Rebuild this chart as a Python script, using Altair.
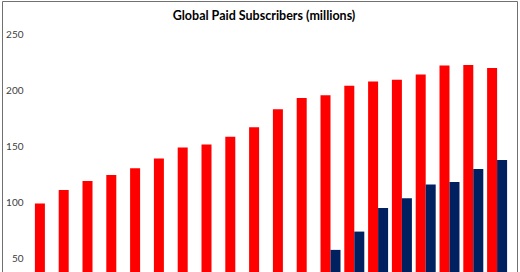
import altair as alt
import pandas as pd

title_text = "Global Paid Subscribers (millions)"
periods = [f"P{i+1}" for i in range(20)]
red_label = "Netflix"
navy_label = "Disney+"
red_values = [99, 111, 119, 124.5, 130.5, 139, 149, 151.5, 158.5, 167,
              183, 193, 195.5, 204, 207.7, 209.2, 214, 222, 222.3, 219.7]
navy_values = [None] * 12 + [57.7, 74, 95, 103.6, 116, 118.1, 129.8, 137.7]

rows = []
for p, r, n in zip(periods, red_values, navy_values):
    rows.append({"period": p, "series": red_label, "value": r})
    if n is not None:
        rows.append({"period": p, "series": navy_label, "value": n})
df = pd.DataFrame(rows)

bars = alt.Chart(df).mark_bar(clip=True).encode(
    x=alt.X("period:N", sort=periods, axis=None,
            scale=alt.Scale(paddingInner=0.16, paddingOuter=0.08)),
    xOffset=alt.XOffset("series:N", sort=[red_label, navy_label],
                        scale=alt.Scale(paddingInner=0, paddingOuter=0)),
    y=alt.Y("value:Q", scale=alt.Scale(domain=[38, 250], zero=False, nice=False),
            axis=alt.Axis(values=[50, 100, 150, 200, 250], title=None, grid=False,
                          domain=False, ticks=False, tickSize=0, labelPadding=10,
                          labelFont="Lato", labelFontSize=10, labelColor="#404040")),
    color=alt.Color("series:N", sort=[red_label, navy_label],
                    scale=alt.Scale(domain=[red_label, navy_label],
                                    range=["#FF0000", "#002060"]),
                    legend=None),
)

deco = pd.DataFrame({"t": [title_text]})

frame = alt.Chart(deco).mark_rect(
    fill=None, stroke="#707070", strokeWidth=1, clip=False
).encode(
    x=alt.value(-30.5), x2=alt.value(484.5),
    y=alt.value(-32.5), y2=alt.value(300),
)

title = alt.Chart(deco).mark_text(
    font="Lato", fontSize=12.5, fontWeight="bold", color="#000000",
    align="center", baseline="alphabetic", clip=False
).encode(
    text="t:N", x=alt.value(231), y=alt.value(-14.3),
)

chart = alt.layer(bars, frame, title).properties(
    width=476, height=238,
    background="white",
    autosize=alt.AutoSizeParams(type="none"),
    padding={"left": 33, "top": 34, "right": 11, "bottom": 0},
).configure_view(strokeWidth=0, stroke="transparent")

chart.save("out.html", embed_options={"renderer": "svg", "actions": False})
